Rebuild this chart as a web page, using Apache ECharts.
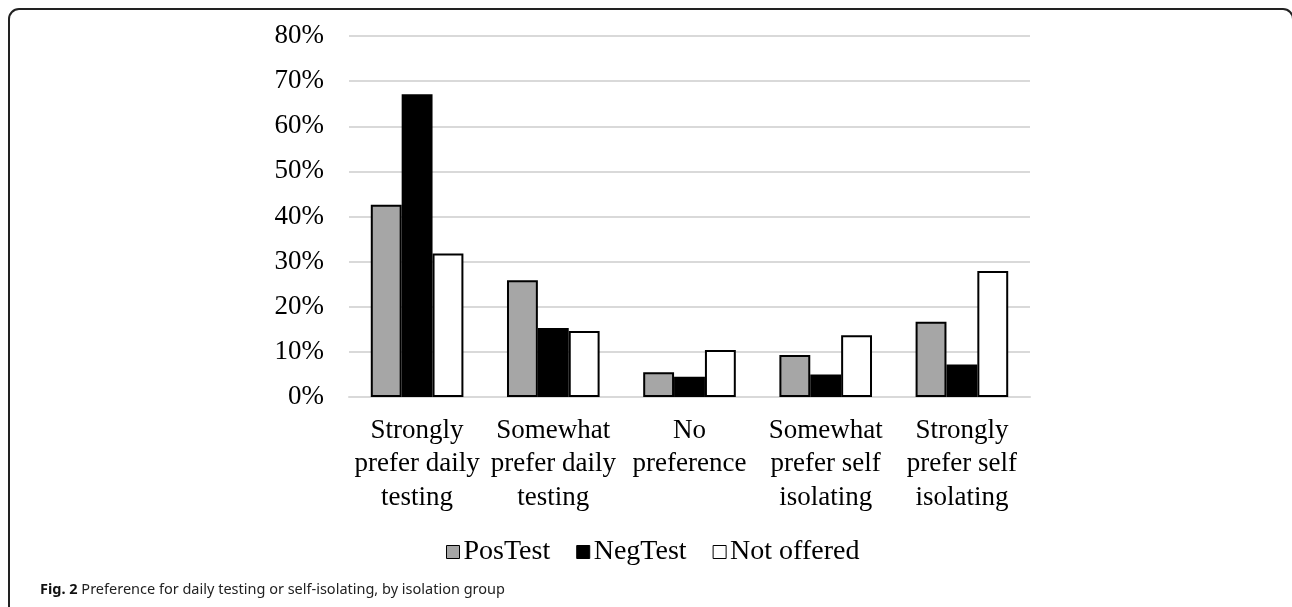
<!DOCTYPE html>
<html lang="en">
    <head>
        <meta charset="utf-8">
        <title>Fig. 2</title>
        <script type="text/javascript" src="https://cdn.jsdelivr.net/npm/echarts@6/dist/echarts.min.js"></script>
        <style>
            html, body { margin: 0; padding: 0; background: #fff; overflow: hidden; }
            #chart { width: 1292px; height: 607px; }
        </style>
    </head>
    <body>
        <div id="chart"></div>
        <script>
            // 数据
            var categories = [
                'Strongly\nprefer daily\ntesting',
                'Somewhat\nprefer daily\ntesting',
                'No\npreference',
                'Somewhat\nprefer self\nisolating',
                'Strongly\nprefer self\nisolating'
            ];
            var seriesNames = ['PosTest', 'NegTest', 'Not offered'];
            var posTest = [42.6, 25.9, 5.5, 9.3, 16.7];
            var negTest = [67.1, 15.3, 4.5, 5.0, 7.2];
            var notOffered = [31.8, 14.6, 10.4, 13.7, 27.9];
            var yTicks = [0, 10, 20, 30, 40, 50, 60, 70, 80];
            var caption = 'Preference for daily testing or self-isolating, by isolation group';

            var serif = '"Liberation Serif", "Times New Roman", serif';
            var colors = ['#a6a6a6', '#000000', '#ffffff'];
            var values = [posTest, negTest, notOffered];

            var myChart = echarts.init(document.getElementById('chart'));
            var option = {
                animation: false,
                color: colors,
                title: {
                    text: '{b|Fig. 2} ' + caption,
                    left: 35,
                    top: 577,
                    textStyle: {
                        fontFamily: '"Noto Sans", sans-serif',
                        fontSize: 14.5,
                        fontWeight: 'normal',
                        color: '#222',
                        rich: {
                            b: { fontFamily: '"Noto Sans", sans-serif', fontSize: 14.5, fontWeight: 'bold', color: '#111' }
                        }
                    }
                },
                legend: {
                    data: seriesNames,
                    left: 441,
                    top: 533,
                    itemWidth: 13,
                    itemHeight: 13,
                    itemGap: 26,
                    icon: 'rect',
                    itemStyle: { borderColor: '#000', borderWidth: 1 },
                    textStyle: { fontFamily: serif, fontSize: 28, color: '#000', padding: [0, 0, 0, -1] }
                },
                grid: {
                    left: 349,
                    right: 262,
                    top: 36,
                    bottom: 210
                },
                xAxis: {
                    type: 'category',
                    data: categories,
                    axisLine: { show: true, lineStyle: { color: '#d9d9d9', width: 2 } },
                    axisTick: { show: false },
                    axisLabel: {
                        interval: 0,
                        margin: 17,
                        fontFamily: serif,
                        fontSize: 27,
                        lineHeight: 33.5,
                        color: '#000'
                    }
                },
                yAxis: {
                    type: 'value',
                    min: yTicks[0],
                    max: yTicks[yTicks.length - 1],
                    interval: 10,
                    axisLine: { show: false },
                    axisTick: { show: false },
                    splitLine: { lineStyle: { color: '#d9d9d9', width: 2 } },
                    axisLabel: {
                        margin: 25,
                        fontFamily: serif,
                        fontSize: 27,
                        color: '#000',
                        formatter: '{value}%'
                    }
                },
                series: seriesNames.map(function (name, i) {
                    return {
                        name: name,
                        type: 'bar',
                        data: values[i],
                        barGap: '0%',
                        barCategoryGap: '32%',
                        itemStyle: { color: colors[i], borderColor: '#000', borderWidth: 2 }
                    };
                }),
                // 外框
                graphic: [{
                    type: 'rect',
                    silent: true,
                    shape: { x: 9, y: 9, width: 1284, height: 700, r: [10, 10, 0, 0] },
                    style: { fill: 'none', stroke: '#222', lineWidth: 2 }
                }]
            };
            myChart.setOption(option);
        </script>
    </body>
</html>
